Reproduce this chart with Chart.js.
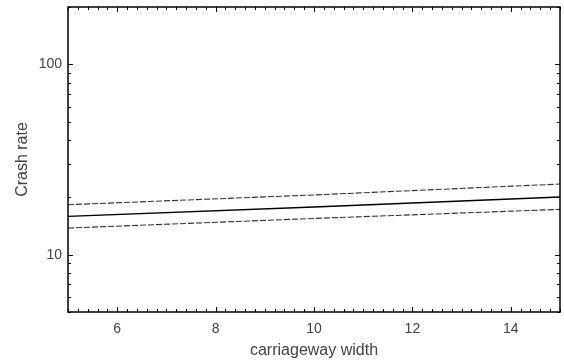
<!DOCTYPE html>
<html>
<head>
<meta charset="utf-8">
<script src="https://cdn.jsdelivr.net/npm/chart.js@4/dist/chart.umd.min.js"></script>
<style>
  html, body { margin: 0; padding: 0; background: #ffffff; }
  canvas { display: block; }
</style>
</head>
<body>
<canvas id="chart" width="564" height="364"></canvas>
<script>
// Carriageway width (m) and modelled crash rate with its confidence band
const widths = [5, 10, 15];
const rateFit = [15.9, 17.8, 20.1];
const rateUpper = [18.3, 20.6, 23.5];
const rateLower = [13.8, 15.5, 17.3];

// Labelled ticks
const xTickLabels = [6, 8, 10, 12, 14];
const yTickLabels = [10, 100];

const TEXT = '#444444';
const tickFont = { family: 'Liberation Sans, Arial, sans-serif', size: 14 };
const titleFont = { family: 'Liberation Sans, Arial, sans-serif', size: 16 };

const toPoints = vals => widths.map((w, i) => ({ x: w, y: vals[i] }));

// Frame with inward major/minor tick marks on all four sides
const framePlugin = {
  id: 'frame',
  afterDatasetsDraw(chart) {
    const { ctx, chartArea: a, scales: { x, y } } = chart;
    ctx.save();
    ctx.strokeStyle = '#000';
    ctx.lineWidth = 1;
    ctx.beginPath();
    // x ticks every 0.2, longer at labelled values
    for (let k = 0; k <= 50; k++) {
      const v = x.min + k * 0.2;
      const px = Math.round(x.getPixelForValue(v)) + 0.5;
      const major = xTickLabels.some(t => Math.abs(t - v) < 1e-6);
      const len = major ? 5 : 3;
      ctx.moveTo(px, a.bottom); ctx.lineTo(px, a.bottom - len);
      ctx.moveTo(px, a.top); ctx.lineTo(px, a.top + len);
    }
    // y ticks at each integer multiple within each decade
    for (let dec = 1; dec <= 100; dec *= 10) {
      for (let m = 1; m <= 9; m++) {
        const v = m * dec;
        if (v < y.min || v > y.max) continue;
        const py = Math.round(y.getPixelForValue(v)) + 0.5;
        const major = yTickLabels.includes(v);
        const len = major ? 5 : 3;
        ctx.moveTo(a.left, py); ctx.lineTo(a.left + len, py);
        ctx.moveTo(a.right, py); ctx.lineTo(a.right - len, py);
      }
    }
    ctx.stroke();
    ctx.lineWidth = 1.5;
    ctx.strokeRect(a.left, a.top, a.right - a.left, a.bottom - a.top);
    ctx.restore();
  }
};

new Chart(document.getElementById('chart'), {
  type: 'line',
  data: {
    datasets: [
      {
        data: toPoints(rateUpper),
        borderColor: '#333333',
        borderWidth: 1.1,
        borderDash: [6, 2],
        pointRadius: 0,
        fill: false
      },
      {
        data: toPoints(rateFit),
        borderColor: '#000000',
        borderWidth: 1.4,
        pointRadius: 0,
        fill: false
      },
      {
        data: toPoints(rateLower),
        borderColor: '#333333',
        borderWidth: 1.1,
        borderDash: [6, 2],
        pointRadius: 0,
        fill: false
      }
    ]
  },
  options: {
    responsive: false,
    animation: false,
    layout: { padding: { top: 7, right: 4, left: 0, bottom: 0 } },
    plugins: {
      legend: { display: false },
      tooltip: { enabled: false }
    },
    scales: {
      x: {
        type: 'linear',
        min: 5,
        max: 15,
        afterBuildTicks: s => { s.ticks = xTickLabels.map(v => ({ value: v })); },
        afterFit: s => { s.height = 52; s.paddingLeft = 0; s.paddingRight = 0; },
        grid: { display: false, drawTicks: false },
        border: { display: false },
        ticks: { font: tickFont, color: TEXT, padding: 9, maxRotation: 0 },
        title: {
          display: true,
          text: 'carriageway width',
          font: titleFont,
          color: TEXT,
          padding: { top: 0, bottom: 4 }
        }
      },
      y: {
        type: 'logarithmic',
        min: 5,
        max: 200,
        afterBuildTicks: s => { s.ticks = yTickLabels.map(v => ({ value: v })); },
        afterFit: s => { s.width = 68; s.paddingTop = 0; s.paddingBottom = 0; },
        grid: { display: false, drawTicks: false },
        border: { display: false },
        ticks: {
          font: tickFont,
          color: TEXT,
          padding: 6,
          callback: v => String(v)
        },
        title: {
          display: true,
          text: 'Crash rate',
          font: titleFont,
          color: TEXT,
          padding: { top: 13, bottom: 0 }
        }
      }
    }
  },
  plugins: [framePlugin]
});
</script>
</body>
</html>
